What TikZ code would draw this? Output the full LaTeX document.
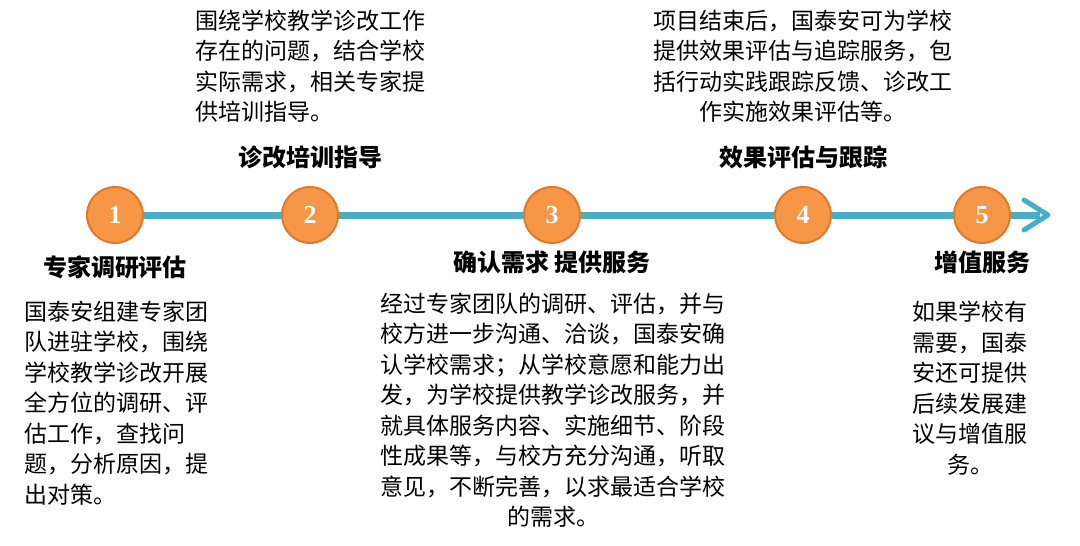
\documentclass[tikz,border=0pt]{standalone}
\usepackage{fontspec}
\setmainfont{Noto Sans CJK SC}
\newfontfamily\numfont{Liberation Serif}
\definecolor{teal}{HTML}{4BACC6}
\definecolor{orng}{HTML}{F79646}
\definecolor{orngd}{HTML}{E0782E}
\begin{document}
\begin{tikzpicture}[x=1pt,y=-1pt,
  step circ/.style={circle,fill=orng,draw=orngd,line width=2pt,minimum size=56pt,inner sep=0pt,text=white,font=\numfont\bfseries\fontsize{26}{26}\selectfont},
  ttl/.style={font=\bfseries\fontsize{24}{28}\selectfont},
  body/.style={font=\fontsize{23}{30.5}\selectfont,inner sep=0pt}]
\useasboundingbox (0,0) rectangle (1080,546);
\foreach \n/\x in {1/115,2/310,3/552,4/803,5/982} \node[step circ] (c\n) at (\x,215) {\n};
\coordinate (end) at (1048,215);
\begin{scope}[on background layer/.try]
\end{scope}
\draw[teal,line width=7pt] (c1.east) -- (c2.west) (c2.east) -- (c3.west) (c3.east) -- (c4.west) (c4.east) -- (c5.west) (c5.east) -- (1040,215);
\draw[teal,line width=5pt,line cap=round,line join=round] (1024,200) -- (end) -- (1024,230);
\node[body,align=left] (t2) at (310,66) {围绕学校教学诊改工作\\存在的问题，结合学校\\实际需求，相关专家提\\供培训指导。};
\node[ttl] (h2) at (310,157) {诊改培训指导};
\node[body,align=center] (t4) at (803,66) {项目结束后，国泰安可为学校\\提供效果评估与追踪服务，包\\括行动实践跟踪反馈、诊改工\\作实施效果评估等。};
\node[ttl] (h4) at (803,157) {效果评估与跟踪};
\node[ttl] (h1) at (115,267) {专家调研评估};
\node[body,align=left] (t1) at (116,403) {国泰安组建专家团\\队进驻学校，围绕\\学校教学诊改开展\\全方位的调研、评\\估工作，查找问\\题，分析原因，提\\出对策。};
\node[ttl] (h3) at (552,262) {确认需求 提供服务};
\node[body,align=center] (t3) at (553,410) {经过专家团队的调研、评估，并与\\校方进一步沟通、洽谈，国泰安确\\认学校需求；从学校意愿和能力出\\发，为学校提供教学诊改服务，并\\就具体服务内容、实施细节、阶段\\性成果等，与校方充分沟通，听取\\意见，不断完善，以求最适合学校\\的需求。};
\node[ttl] (h5) at (982,262) {增值服务};
\node[body,align=center] (t5) at (970,388) {如果学校有\\需要，国泰\\安还可提供\\后续发展建\\议与增值服\\务。};
\end{tikzpicture}
\end{document}
